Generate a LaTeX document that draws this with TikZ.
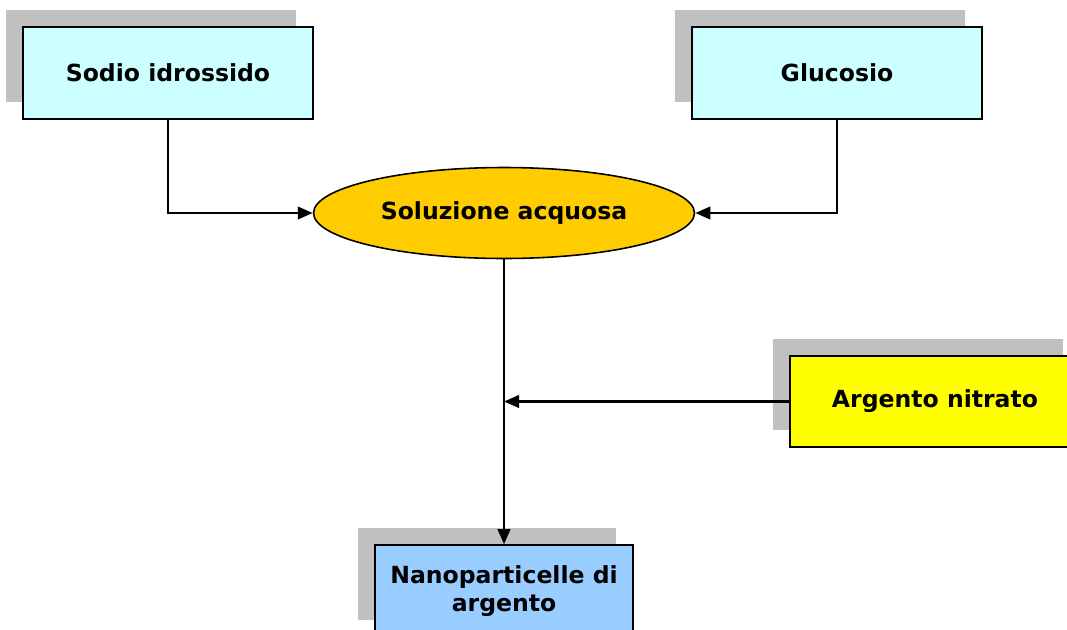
\documentclass[tikz,border=0pt]{standalone}
\usepackage{fontspec}
\setmainfont{DejaVu Sans}
\usepackage{tikz}
\usetikzlibrary{arrows.meta,shapes.geometric,shadows}
\definecolor{boxcyan}{HTML}{CCFFFF}
\definecolor{boxyellow}{HTML}{FFFF00}
\definecolor{boxblue}{HTML}{99CCFF}
\definecolor{solgold}{HTML}{FFCC00}
\definecolor{shadowgray}{HTML}{C0C0C0}

\begin{document}
\begin{tikzpicture}[x=0.02cm,y=-0.02cm,font=\fontsize{13.4}{16}\selectfont\bfseries,
  >={Triangle[length=3mm,width=2.5mm]},
  inbox/.style={draw,line width=0.9pt,minimum width=5.8cm,minimum height=1.84cm,inner sep=2pt,
    general shadow={fill=shadowgray,shadow xshift=-0.34cm,shadow yshift=0.34cm}},
  link/.style={line width=1.3pt}]
  \useasboundingbox (0,0) rectangle (1067,629);
  % reagents
  \node[inbox,fill=boxcyan] (sodio) at (168,73) {Sodio idrossido};
  \node[inbox,fill=boxcyan] (gluc) at (837,73) {Glucosio};
  \node[draw,line width=0.9pt,ellipse,fill=solgold,minimum width=7.62cm,minimum height=1.82cm,inner sep=0pt]
    (sol) at (504,213) {Soluzione acquosa};
  \node[inbox,fill=boxyellow,minimum height=1.82cm] (agno) at (935,401.5) {Argento nitrato};
  \node[inbox,fill=boxblue,minimum width=5.16cm,align=center] (nano) at (504,591) {Nanoparticelle di\\argento};
  \coordinate (join) at (sol.south |- agno.west);
  % connectors
  \draw[link,->] (sodio.south) |- (sol.west);
  \draw[link,->] (gluc.south) |- (sol.east);
  \draw[link,->] (sol.south) -- (nano.north);
  \draw[link,->] (agno.west) -- (join);
\end{tikzpicture}
\end{document}
